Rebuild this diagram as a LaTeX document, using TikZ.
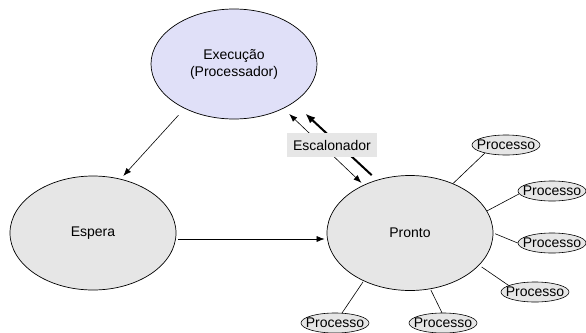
\documentclass[tikz,border=0pt]{standalone}
\usepackage{fontspec}
\setmainfont{Liberation Sans}
\usetikzlibrary{shapes.geometric,arrows.meta}
\definecolor{lav}{RGB}{224,224,248}
\definecolor{lgray}{RGB}{230,230,230}
\begin{document}
\begin{tikzpicture}[x=1pt,y=-1pt,
  every node/.style={font=\fontsize{14}{17}\selectfont},
  state/.style={ellipse,draw=black,line width=0.7pt,fill=lgray,minimum width=166pt,minimum height=114pt,inner sep=0pt},
  proc/.style={ellipse,draw=black,line width=0.6pt,fill=lgray,minimum width=68pt,minimum height=20pt,inner sep=0pt},
  conn/.style={line width=0.6pt},
  arr/.style={line width=0.6pt,-{Latex[length=8pt,width=6pt]}},
]
\useasboundingbox (0,0) rectangle (586,332);
\node[state,fill=lav,minimum height=110pt,align=center] (exec) at (234,64) {Execução\\(Processador)};
\node[state] (espera) at (93,233) {Espera};
\node[state,minimum height=115pt] (pronto) at (410,233) {Pronto};
\node[proc] (p1) at (506,145) {\makebox[0pt]{Processo}};
\node[proc] (p2) at (552,191) {\makebox[0pt]{Processo}};
\node[proc] (p3) at (552,243) {\makebox[0pt]{Processo}};
\node[proc] (p4) at (535,292) {\makebox[0pt]{Processo}};
\node[proc] (p5) at (335,323) {\makebox[0pt]{Processo}};
\node[proc] (p6) at (443,323) {\makebox[0pt]{Processo}};
% connectors
\draw[arr,shorten <=9pt,shorten >=4pt] (exec.222) -- (espera.63);
\draw[arr,shorten <=2pt,shorten >=2pt] ([yshift=-6pt]espera.east) -- ([yshift=-6pt]pronto.west);
\draw[line width=0.6pt,{Latex[length=8pt,width=6pt]}-{Latex[length=8pt,width=6pt]},shorten <=8pt,shorten >=3pt] (exec.-42) -- (pronto.134);
\draw[line width=2pt,{Latex[length=10pt,width=8pt]}-,shorten <=16pt,shorten >=7pt] (exec.-33.5) -- (pronto.122);
\node[fill=lgray,minimum width=90pt,minimum height=24pt,inner sep=0pt] (esc) at (332,145) {Escalonador};
\draw[conn] (pronto.49) -- (p1.201);
\draw[conn] (pronto.16) -- (p2.185);
\draw[conn,shorten <=2pt] (pronto.0) -- (p3.180);
\draw[conn,shorten <=3pt] (pronto.-25) -- (p4.166);
\draw[conn,shorten <=1pt] (pronto.226) -- (p5.55);
\draw[conn,shorten <=1pt] (pronto.-70) -- (p6.96);
\end{tikzpicture}
\end{document}
